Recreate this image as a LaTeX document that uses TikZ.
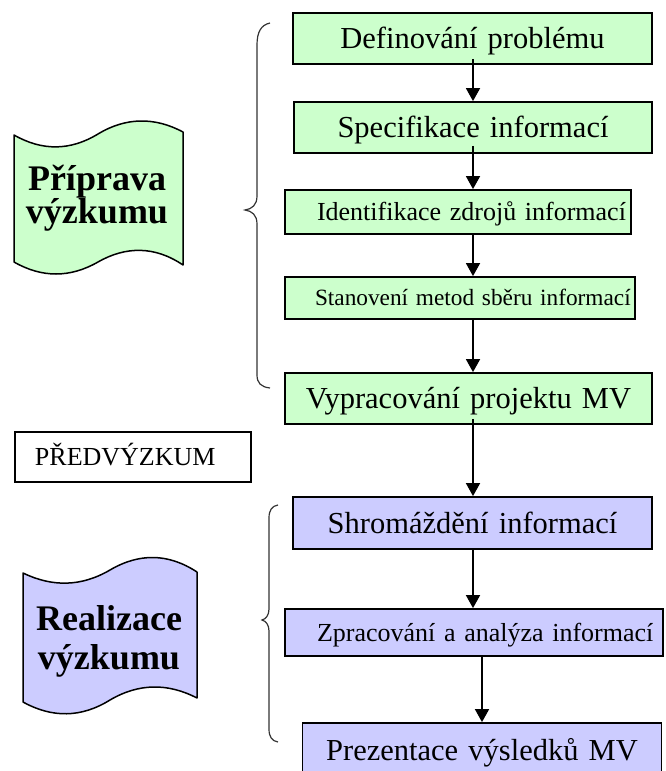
\documentclass[tikz,border=0pt]{standalone}
\usepackage{fontspec}
\setmainfont{Liberation Serif}
\usetikzlibrary{arrows.meta}
\definecolor{pgreen}{RGB}{204,255,204}
\definecolor{ppurple}{RGB}{204,204,255}
\setlength{\parindent}{0pt}
\begin{document}
\begin{tikzpicture}[x=1pt,y=-1pt,
  stepbox/.style={draw=black, line width=1.8pt, inner xsep=0pt, inner ysep=0pt, align=center},
  bigtxt/.style={font=\fontsize{30.5}{36}\selectfont, text height=20pt, text depth=0pt},
  midtxt/.style={font=\fontsize{26}{30}\selectfont, text height=17pt, text depth=0pt},
  smalltxt/.style={font=\fontsize{23.3}{28}\selectfont, text height=15.5pt, text depth=0pt},
  arr/.style={line width=1.7pt, -{Triangle[width=14pt,length=13pt]}},
  brc/.style={draw=black!80, line width=1.2pt},
  wave/.style={draw=black, line width=1.5pt, line join=round},
  headtxt/.style={align=center, anchor=base}
]
\clip (0,0) rectangle (666,771);

% steps
\node[stepbox, bigtxt, fill=pgreen, text width=359pt, minimum height=51pt] (b1) at (472.5,38.5) {Definování problému};
\node[stepbox, bigtxt, fill=pgreen, text width=358pt, minimum height=51pt] (b2) at (473,127.5) {Specifikace informací};
\node[stepbox, midtxt, fill=pgreen, text width=346pt, minimum height=44pt, align=left] (b3) at (458,212) {\hspace*{32pt}Identifikace zdrojů informací};
\node[stepbox, smalltxt, fill=pgreen, text width=350pt, minimum height=42pt, align=left] (b4) at (460,298) {\hspace*{30pt}Stanovení metod sběru informací};
\node[stepbox, bigtxt, fill=pgreen, text width=367pt, minimum height=51pt] (b5) at (468.5,398.5) {Vypracování projektu MV};
\node[stepbox, bigtxt, fill=ppurple, text width=359pt, minimum height=52pt] (b6) at (472.5,523) {Shromáždění informací};
\node[stepbox, midtxt, fill=ppurple, text width=378pt, minimum height=47pt, align=left] (b7) at (474,632.5) {\hspace*{32pt}Zpracování a analýza informací};
\node[stepbox, bigtxt, fill=ppurple, text width=359pt, minimum height=54pt] (b8) at (482,750) {Prezentace výsledků MV};

% pre-research label
\node[draw=black, line width=1.5pt, inner xsep=0pt, inner ysep=0pt, midtxt, text width=236pt, minimum height=50pt, align=left, fill=white] (pre) at (133,457) {\hspace*{20pt}PŘEDVÝZKUM};

% arrows
\coordinate (ax) at (473,0);
\draw[arr] ([yshift=6pt]ax |- b1.south) -- (ax |- b2.north);
\draw[arr] ([yshift=8pt]ax |- b2.south) -- (ax |- b3.north);
\draw[arr] (ax |- b3.south) -- (ax |- b4.north);
\draw[arr] (ax |- b4.south) -- (ax |- b5.north);
\draw[arr] ([yshift=6pt]ax |- b5.south) -- (ax |- b6.north);
\draw[arr] (ax |- b6.south) -- (ax |- b7.north);
\draw[arr] (b8.north |- b7.south) -- (b8.north);

% wave shapes
\draw[wave, fill=pgreen] (14,135) .. controls (42,151) and (70,151) .. (98,134) .. controls (126,117) and (155,117) .. (183,132) -- (183,265) .. controls (155,246) and (126,246) .. (98,262) .. controls (70,278) and (42,278) .. (14,262) -- cycle;
\draw[wave, fill=ppurple] (23,573) .. controls (52,587) and (81,587) .. (110,570) .. controls (139,553) and (168,553) .. (197,572) -- (197,698) .. controls (168,683) and (139,683) .. (110,700) .. controls (81,718) and (52,718) .. (23,702) -- cycle;

\node[headtxt, font=\fontsize{36}{33}\selectfont\bfseries] (prip) at (97,223) {Příprava\\výzkumu};
\node[headtxt, font=\fontsize{36}{39}\selectfont\bfseries] (real) at (109,669) {Realizace\\výzkumu};

% braces
\draw[brc] (270,23) .. controls (261,25) and (257,32) .. (257,45) -- (257,196) .. controls (257,205) and (252,209) .. (245,210) .. controls (252,211) and (257,215) .. (257,224) -- (257,375) .. controls (257,383) and (261,387) .. (270,388);
\draw[brc] (278,505) .. controls (272,506) and (269,510) .. (269,518) -- (269,609) .. controls (269,615) and (266,619) .. (262,620) .. controls (266,621) and (269,625) .. (269,631) -- (269,729) .. controls (269,737) and (272,741) .. (278,742);
\end{tikzpicture}
\end{document}
